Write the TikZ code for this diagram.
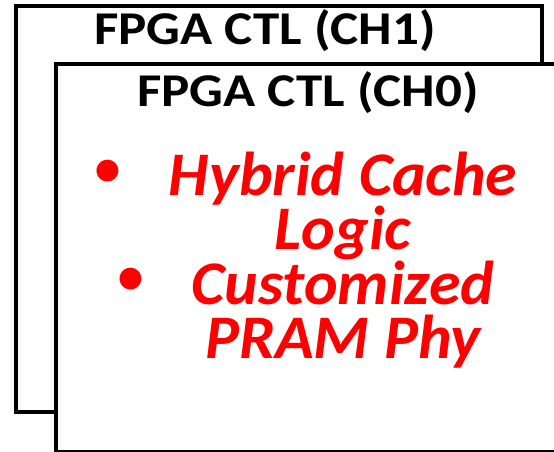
\documentclass[tikz,border=0pt]{standalone}
\usepackage{fontspec}
\setmainfont{Carlito}
\newfontfamily\titlefont[FakeStretch=1.13]{Carlito}
\newfontfamily\itemfont[FakeStretch=1.03]{Carlito}
\usepackage{tikz}
\usetikzlibrary{positioning}

\tikzset{
  board/.style={draw, fill=white, line width=4pt, minimum width=#1, anchor=north west, inner sep=0pt},
  title/.style={font=\titlefont\fontsize{47}{47}\selectfont\bfseries, anchor=base, inner sep=0pt},
  item/.style={font=\itemfont\fontsize{62}{53.7}\selectfont\bfseries\itshape, text=red, align=center, anchor=base, inner sep=0pt},
  dot/.style={font=\fontsize{62}{53}\selectfont, text=red, anchor=center, inner sep=0pt}
}

\begin{document}
\begin{tikzpicture}[x=1pt, y=-1pt]
  \useasboundingbox (0,0) rectangle (554,452);
  \clip (0,0) rectangle (554,452);

  % Boards
  \node[board=526pt, minimum height=405.5pt] (back) at (14,4.5) {};
  \node[board=560pt, minimum height=388pt] (front) at (54,62) {};

  % Titles
  \node[title] (ch1) at (265,45) {FPGA CTL (CH1)};
  \node[title] (ch0) at (308,106) {FPGA CTL (CH0)};

  % Bullet items
  \node[dot] (b0) at (108,174) {•};
  \node[dot] (b1) at (131,282) {•};
  \node[item] (items) at (343,358) {Hybrid Cache\\Logic\\Customized\\PRAM Phy};
\end{tikzpicture}
\end{document}
